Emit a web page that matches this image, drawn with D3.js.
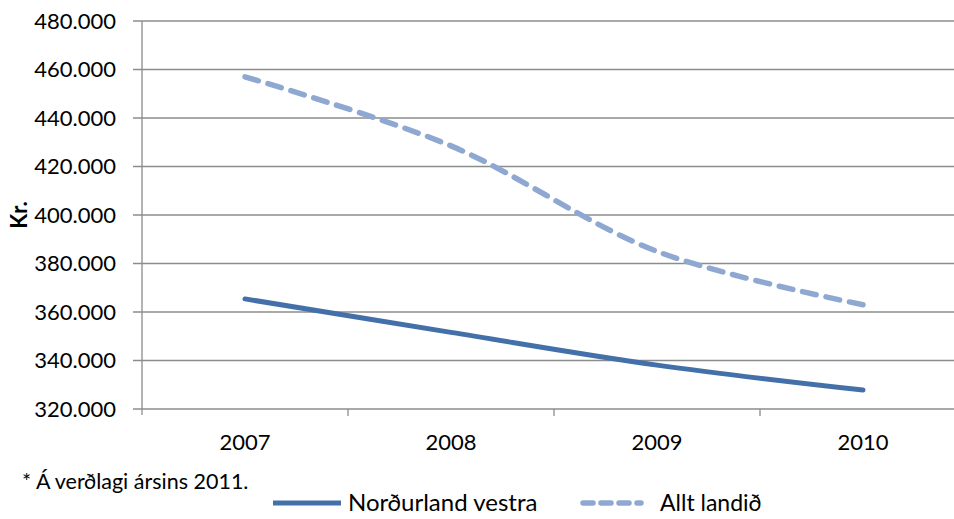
<!DOCTYPE html>
<html><head><meta charset="utf-8">
<script src="https://cdn.jsdelivr.net/npm/d3@7"></script>
<style>body{margin:0;background:#fff}svg{display:block}text{font-family:Lato,"Open Sans",sans-serif;fill:#000}</style>
</head><body><svg id="c" width="954" height="519"></svg>
<script>
const years = ["2007","2008","2009","2010"];
const nordurland = [365400, 351600, 338100, 327800];
const alltLandid = [457000, 428500, 385000, 363000];
const yTicks = [320000,340000,360000,380000,400000,420000,440000,460000,480000];
const seriesNames = ["Norðurland vestra","Allt landið"];
const footnote = "* Á verðlagi ársins 2011.";
const yLabel = "Kr.";

const svg = d3.select("#c");
const L = 142, R = 966, T = 21, B = 409;
const x = d3.scaleBand().domain(years).range([L, R]);
const y = d3.scaleLinear().domain([320000, 480000]).range([B, T]);
const fmt = v => d3.format(",")(v).replace(/,/g, ".");

// gridlines
svg.append("g").selectAll("line").data(yTicks).join("line")
  .attr("x1", L - 9).attr("x2", R).attr("y1", d => y(d)).attr("y2", d => y(d))
  .attr("stroke", "#8c8c8c").attr("stroke-width", 1.3);
// y axis line
svg.append("line").attr("x1", L).attr("x2", L).attr("y1", T).attr("y2", B + 6)
  .attr("stroke", "#8c8c8c").attr("stroke-width", 1.3);
// x tick marks at band boundaries
const bounds = years.map(d => x(d)).concat([R]);
svg.append("g").selectAll("line").data(bounds.slice(1)).join("line")
  .attr("x1", d => d).attr("x2", d => d).attr("y1", B).attr("y2", B + 7)
  .attr("stroke", "#8c8c8c").attr("stroke-width", 1.3);
// y tick labels
svg.append("g").selectAll("text").data(yTicks).join("text")
  .attr("x", 116).attr("y", d => y(d)).attr("dy", "0.36em")
  .attr("text-anchor", "end").attr("font-size", 22).text(fmt);
// x labels
svg.append("g").selectAll("text").data(years).join("text")
  .attr("x", d => x(d) + x.bandwidth() / 2).attr("y", 450)
  .attr("text-anchor", "middle").attr("font-size", 22).text(d => d);
// y label
svg.append("text").attr("transform", "translate(27,215) rotate(-90)")
  .attr("text-anchor", "middle").attr("font-size", 22).attr("font-weight", "bold").text(yLabel);

const line = d3.line().x((d, i) => x(years[i]) + x.bandwidth() / 2).y(d => y(d))
  .curve(d3.curveCatmullRom.alpha(0.5));
svg.append("path").attr("d", line(alltLandid)).attr("fill", "none")
  .attr("stroke", "#8ea8d1").attr("stroke-width", 5.5).attr("stroke-linecap", "round")
  .attr("stroke-dasharray", "14 10");
svg.append("path").attr("d", line(nordurland)).attr("fill", "none")
  .attr("stroke", "#4470aa").attr("stroke-width", 5).attr("stroke-linecap", "round");

// footnote
svg.append("text").attr("x", 22).attr("y", 489).attr("font-size", 21.5).text(footnote);
// legend
const lg = svg.append("g");
lg.append("line").attr("x1", 273).attr("x2", 341).attr("y1", 503).attr("y2", 503)
  .attr("stroke", "#4470aa").attr("stroke-width", 5);
lg.append("text").attr("x", 348).attr("y", 511).attr("font-size", 24).text(seriesNames[0]);
lg.append("line").attr("x1", 583).attr("x2", 641).attr("y1", 503).attr("y2", 503)
  .attr("stroke", "#8ea8d1").attr("stroke-width", 5.5).attr("stroke-linecap", "round")
  .attr("stroke-dasharray", "10 8");
lg.append("text").attr("x", 660).attr("y", 511).attr("font-size", 23).text(seriesNames[1]);
</script></body></html>
